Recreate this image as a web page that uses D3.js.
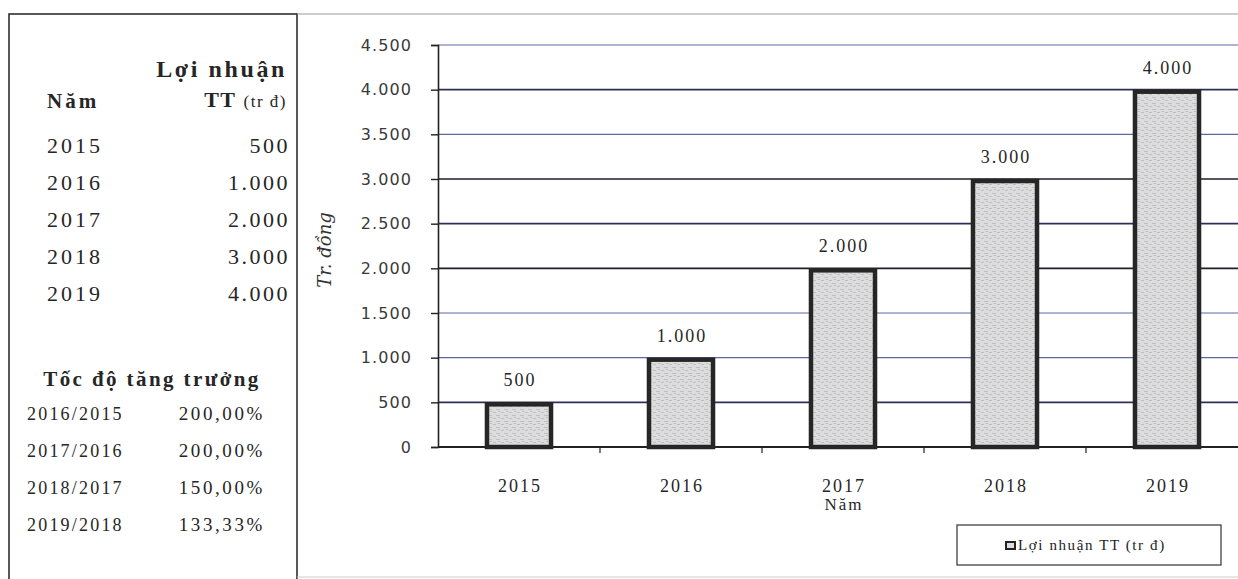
<!DOCTYPE html>
<html><head><meta charset="utf-8">
<script src="https://cdn.jsdelivr.net/npm/d3@7/dist/d3.min.js"></script>
<style>body{margin:0;background:#fff}svg{display:block}</style>
</head><body>
<svg id="c" width="1238" height="579"></svg>
<script>
const years = ["2015","2016","2017","2018","2019"];
const profit = [500, 1000, 2000, 3000, 4000];
const growthLabels = ["2016/2015","2017/2016","2018/2017","2019/2018"];
const growth = [200.00, 200.00, 150.00, 133.33];
const yTicks = [0,500,1000,1500,2000,2500,3000,3500,4000,4500];
const seriesName = "Lợi nhuận TT (tr đ)";
const yTitle = "Tr. đồng";
const xTitle = "Năm";

const vn = d3.formatLocale({decimal:",", thousands:".", grouping:[3], currency:["","đ"]});
const fmtInt = vn.format(",.0f");
const fmtPct = v => vn.format(",.2f")(v) + "%";

const svg = d3.select("#c");
const serif = "'Liberation Serif','DejaVu Serif',serif";
const sans = "'DejaVu Sans','Liberation Sans',sans-serif";

// pattern for bar fill
const defs = svg.append("defs");
const pat = defs.append("pattern").attr("id","tex").attr("patternUnits","userSpaceOnUse").attr("width",8).attr("height",6);
pat.append("rect").attr("width",8).attr("height",6).attr("fill","#dcdcdc");
pat.append("path").attr("d","M0,1.5h4M5,4.5h3M2,3.5h2").attr("stroke","#b8b8bc").attr("stroke-width",0.8);

// frames
svg.append("rect").attr("x",9).attr("y",14).attr("width",288).attr("height",580).attr("fill","none").attr("stroke","#222").attr("stroke-width",1.5);
svg.append("line").attr("x1",297).attr("x2",1238).attr("y1",14).attr("y2",14).attr("stroke","#999").attr("stroke-width",1.2);
svg.append("line").attr("x1",297).attr("x2",1238).attr("y1",577).attr("y2",577).attr("stroke","#ccc").attr("stroke-width",1);

// left table
const L = svg.append("g").attr("fill","#262626").attr("font-family",serif);
L.append("text").attr("x",287).attr("y",77).attr("text-anchor","end").attr("font-size",24).attr("font-weight","bold").attr("letter-spacing",2.6).text("Lợi nhuận");
L.append("text").attr("x",47).attr("y",108).attr("font-size",21).attr("letter-spacing",3).attr("font-weight","bold").text("Năm");
L.append("text").attr("x",287).attr("y",107).attr("text-anchor","end").attr("font-size",22).attr("letter-spacing",1.5).html('<tspan font-weight="bold">TT</tspan> <tspan font-size="17">(tr đ)</tspan>');
years.forEach((y,i)=>{
  const yy = 153 + i*37;
  L.append("text").attr("x",47).attr("y",yy).attr("font-size",22).attr("letter-spacing",3).text(y);
  L.append("text").attr("x",290).attr("y",yy).attr("text-anchor","end").attr("font-size",22).attr("letter-spacing",2.5).text(fmtInt(profit[i]));
});
L.append("text").attr("x",152).attr("y",386).attr("text-anchor","middle").attr("font-size",21).attr("font-weight","bold").attr("letter-spacing",2.4).text("Tốc độ tăng trưởng");
growthLabels.forEach((g,i)=>{
  const yy = 420 + i*37;
  L.append("text").attr("x",27).attr("y",yy).attr("font-size",18).attr("letter-spacing",2.2).text(g);
  L.append("text").attr("x",265).attr("y",yy).attr("text-anchor","end").attr("font-size",19).attr("letter-spacing",2.6).text(fmtPct(growth[i]));
});

// chart
const x = d3.scaleBand().domain(years).range([438,1248]).paddingInner(0.58).paddingOuter(0.29);
const y = d3.scaleLinear().domain([0,4500]).range([447,45]);

// gridlines
const isDark = d => d===3000 || d===2000 || d===500 || d===4000 || d===2500;
svg.append("g").selectAll("line").data(yTicks.filter(d=>d>0)).join("line")
  .attr("x1",438).attr("x2",1238).attr("y1",d=>y(d)).attr("y2",d=>y(d))
  .attr("stroke",d=>(d===3000||d===2000) ? "#1e1e28" : isDark(d) ? "#2c3056" : "#5a68a8")
  .attr("stroke-width",d=>isDark(d) ? 1.6 : 1.1);

// y axis
const ya = svg.append("g").attr("transform","translate(438,0)")
  .call(d3.axisLeft(y).tickValues(yTicks).tickFormat(fmtInt).tickSize(7).tickPadding(19));
ya.select(".domain").attr("stroke","#222").attr("stroke-width",1.6);
ya.selectAll(".tick line").attr("stroke","#222").attr("stroke-width",1.4);
ya.selectAll("text").attr("font-family",sans).attr("font-size",16).attr("letter-spacing",1.1).attr("fill","#3a3a3a");

// x axis
const band = (1248-438)/years.length;
const xa = svg.append("g").attr("transform","translate(0,447)");
xa.append("line").attr("x1",438).attr("x2",1238).attr("stroke","#222").attr("stroke-width",1.8);
xa.selectAll(".xt").data(d3.range(1,years.length)).join("line").attr("class","xt")
  .attr("x1",i=>438+i*band).attr("x2",i=>438+i*band).attr("y1",0).attr("y2",6).attr("stroke","#222").attr("stroke-width",1.2);
xa.selectAll(".xl").data(years).join("text").attr("class","xl")
  .attr("x",d=>x(d)+x.bandwidth()/2+1).attr("y",45).attr("text-anchor","middle")
  .attr("font-family",serif).attr("font-size",18).attr("letter-spacing",2).attr("fill","#262626").text(d=>d);
svg.append("text").attr("x",x("2017")+x.bandwidth()/2+1).attr("y",510).attr("text-anchor","middle")
  .attr("font-family",serif).attr("font-size",17).attr("letter-spacing",2).attr("fill","#262626").text(xTitle);

// bars
svg.append("g").selectAll("rect").data(years).join("rect")
  .attr("x",d=>x(d)+2).attr("width",x.bandwidth()-4)
  .attr("y",(d,i)=>y(profit[i])+2).attr("height",(d,i)=>y(0)-y(profit[i])-2)
  .attr("fill","url(#tex)").attr("stroke","#262626").attr("stroke-width",4.5);

// value labels
svg.append("g").selectAll("text").data(years).join("text")
  .attr("x",d=>x(d)+x.bandwidth()/2+1).attr("y",(d,i)=>y(profit[i])-16)
  .attr("text-anchor","middle").attr("font-family",serif).attr("font-size",18).attr("letter-spacing",2).attr("fill","#262626")
  .text((d,i)=>fmtInt(profit[i]));

// y title
svg.append("text").attr("transform","translate(331,250) rotate(-90)").attr("text-anchor","middle")
  .attr("font-family","'DejaVu Serif',serif").attr("font-style","italic").attr("font-size",18).attr("fill","#333").text(yTitle);

// legend
const lg = svg.append("g");
lg.append("rect").attr("x",957).attr("y",525).attr("width",264).attr("height",40).attr("fill","#fff").attr("stroke","#333").attr("stroke-width",1.2);
lg.append("rect").attr("x",1006).attr("y",542).attr("width",9).attr("height",7).attr("fill","#ddd").attr("stroke","#222").attr("stroke-width",2);
lg.append("text").attr("x",1018).attr("y",550).attr("font-family",serif).attr("font-size",15).attr("letter-spacing",1.6).attr("fill","#222").text(seriesName);
</script>
</body></html>
